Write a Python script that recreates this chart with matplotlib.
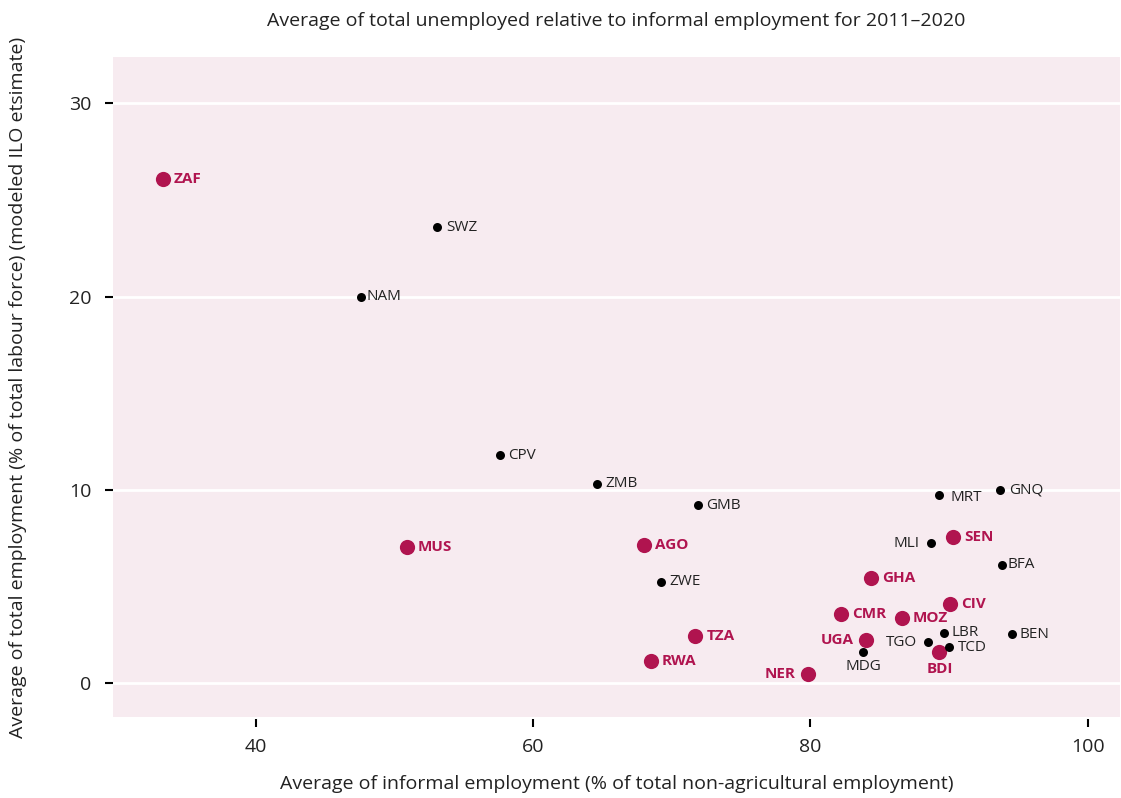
import matplotlib
matplotlib.use('Agg')
import matplotlib.pyplot as plt

plt.rcParams['font.family'] = ['Open Sans', 'DejaVu Sans']

# countries, informal employment (%), unemployment (%), highlighted?
codes = ['ZAF', 'SWZ', 'NAM', 'CPV', 'ZMB', 'GMB', 'MUS', 'AGO', 'ZWE', 'TZA',
         'RWA', 'NER', 'MDG', 'UGA', 'CMR', 'GHA', 'MOZ', 'TGO', 'BDI', 'LBR',
         'TCD', 'CIV', 'MLI', 'MRT', 'SEN', 'GNQ', 'BFA', 'BEN']
informal = [33.3, 53.1, 47.6, 57.6, 64.6, 71.9, 50.9, 68.0, 69.2, 71.7,
            68.5, 79.8, 83.8, 84.0, 82.2, 84.4, 86.6, 88.5, 89.3, 89.6,
            90.0, 90.1, 88.7, 89.3, 90.3, 93.7, 93.8, 94.5]
unemployed = [26.1, 23.6, 20.0, 11.8, 10.3, 9.2, 7.05, 7.15, 5.24, 2.43,
              1.14, 0.47, 1.6, 2.22, 3.57, 5.43, 3.36, 2.12, 1.6, 2.59,
              1.86, 4.09, 7.24, 9.74, 7.55, 10.0, 6.12, 2.53]
highlight = ['ZAF', 'MUS', 'AGO', 'TZA', 'RWA', 'NER', 'UGA', 'CMR', 'GHA',
             'MOZ', 'BDI', 'CIV', 'SEN']

# label placement exceptions (offset in points, ha, va)
label_pos = {
    'MLI': (-8, 0, 'right', 'center'),
    'TGO': (-8, 0, 'right', 'center'),
    'UGA': (-9, 0, 'right', 'center'),
    'NER': (-9, 0, 'right', 'center'),
    'MDG': (0, -5, 'center', 'top'),
    'BDI': (0, -7, 'center', 'top'),
    'MRT': (8, -2, 'left', 'center'),
    'BFA': (4, 0, 'left', 'center'),
    'NAM': (4, 0, 'left', 'center'),
}

red = '#b0144f'
bg = '#f7ebf0'

fig = plt.figure(figsize=(11.21, 7.98), dpi=100)
ax = fig.add_axes([0.1008, 0.1015, 0.898, 0.8271])
ax.set_facecolor(bg)

for c, x, y in zip(codes, informal, unemployed):
    hi = c in highlight
    ax.scatter(x, y, s=120 if hi else 42, color=red if hi else 'black',
               zorder=3, linewidths=0)
    dx, dy, ha, va = label_pos.get(c, (8 if hi else 6, 0, 'left', 'center'))
    ax.annotate(c, (x, y), xytext=(dx, dy), textcoords='offset points',
                ha=ha, va=va, fontsize=11,
                color=red if hi else '#222222',
                fontweight='bold' if hi else 'normal', zorder=4)

ax.set_xlim(29.7, 102.3)
ax.set_ylim(-1.76, 32.4)
ax.set_xticks([40, 60, 80, 100])
ax.set_yticks([0, 10, 20, 30])
ax.yaxis.grid(True, color='white', linewidth=2)
ax.set_axisbelow(True)
for s in ax.spines.values():
    s.set_visible(False)
ax.spines['bottom'].set_position(('outward', 1.5))
ax.tick_params(axis='both', labelsize=14, length=5.5, width=1.5, color='black',
               labelcolor='#222222')
ax.tick_params(axis='x', pad=8)
ax.tick_params(axis='y', pad=10)

ax.set_title('Average of total unemployed relative to informal employment for 2011\u20132020',
             fontsize=14, pad=22, color='#222222')
ax.set_xlabel('Average of informal employment (% of total non-agricultural employment)',
              fontsize=14, color='#222222')
ax.set_ylabel('Average of total employment (% of total labour force) (modeled ILO etsimate)',
              fontsize=14, color='#222222')
ax.xaxis.set_label_coords(0.5, -0.088)
ax.yaxis.set_label_coords(-0.085, 0.5)

fig.savefig('out.png', dpi=100)
